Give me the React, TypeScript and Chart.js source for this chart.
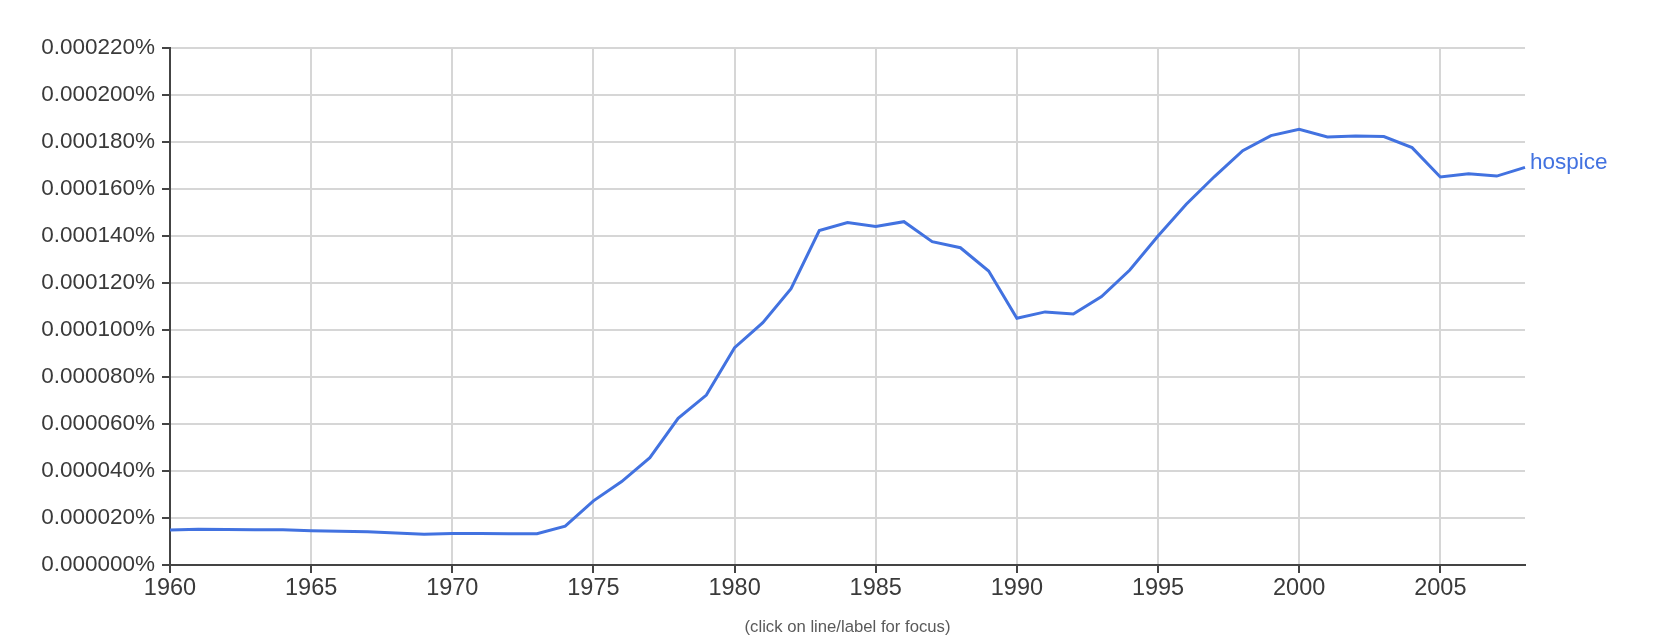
import React, { useEffect, useRef } from "react";
import { Chart, registerables } from "chart.js";

Chart.register(...registerables);

const years: number[] = [
  1960, 1961, 1962, 1963, 1964, 1965, 1966, 1967, 1968, 1969,
  1970, 1971, 1972, 1973, 1974, 1975, 1976, 1977, 1978, 1979,
  1980, 1981, 1982, 1983, 1984, 1985, 1986, 1987, 1988, 1989,
  1990, 1991, 1992, 1993, 1994, 1995, 1996, 1997, 1998, 1999,
  2000, 2001, 2002, 2003, 2004, 2005, 2006, 2007, 2008,
];

// frequency in percent
const hospice: number[] = [
  0.0000149, 0.0000152, 0.0000151, 0.000015, 0.000015, 0.0000146, 0.0000144, 0.0000141, 0.0000136, 0.0000131,
  0.0000134, 0.0000134, 0.0000133, 0.0000133, 0.0000165, 0.0000273, 0.0000355, 0.0000457, 0.0000624, 0.0000723,
  0.0000925, 0.0001031, 0.0001176, 0.0001423, 0.0001457, 0.0001441, 0.0001461, 0.0001376, 0.000135, 0.0001251,
  0.000105, 0.0001077, 0.0001068, 0.0001142, 0.0001255, 0.00014, 0.0001535, 0.0001653, 0.0001763, 0.0001827,
  0.0001854, 0.0001821, 0.0001826, 0.0001823, 0.0001776, 0.0001651, 0.0001665, 0.0001655, 0.0001692,
];

const seriesName = "hospice";
const xTickYears: number[] = [1960, 1965, 1970, 1975, 1980, 1985, 1990, 1995, 2000, 2005];
const yMin = 0;
const yMax = 0.00022;
const yStep = 0.00002;
const caption = "(click on line/label for focus)";

const LINE = "#4272e0";
const AXIS = "#444444";
const TEXT = "#3a3a3a";
const GRID = "#d6d6d6";
const FONT = '"Liberation Sans", Arial, sans-serif';

export default function App() {
  const ref = useRef<HTMLCanvasElement | null>(null);

  useEffect(() => {
    document.body.style.margin = "0";
    const canvas = ref.current;
    if (!canvas) return;

    const labelPlugin = {
      id: "ngramLabels",
      afterDraw(chart: any) {
        const { ctx, chartArea, scales } = chart;
        const xs = scales.x;
        const ys = scales.y;
        const last = hospice.length - 1;
        ctx.save();
        ctx.font = `22.5px ${FONT}`;
        ctx.fillStyle = LINE;
        ctx.textAlign = "left";
        ctx.textBaseline = "middle";
        ctx.fillText(seriesName, xs.getPixelForValue(last) + 5, ys.getPixelForValue(hospice[last]) - 5);
        ctx.font = `16.7px ${FONT}`;
        ctx.fillStyle = "#5a5a5a";
        ctx.textAlign = "center";
        ctx.fillText(caption, (chartArea.left + chartArea.right) / 2, chart.height - 11);
        ctx.restore();
      },
    };

    const chart = new Chart(canvas, {
      type: "line",
      data: {
        labels: years.map(String),
        datasets: [
          {
            label: seriesName,
            data: hospice,
            borderColor: LINE,
            borderWidth: 3,
            pointRadius: 0,
            tension: 0,
            fill: false,
          },
        ],
      },
      options: {
        animation: false,
        responsive: false,
        maintainAspectRatio: false,
        layout: { padding: { left: 0, top: 48, right: 138, bottom: 0 } },
        plugins: {
          legend: { display: false },
          tooltip: { enabled: false },
          title: { display: false },
        },
        scales: {
          x: {
            type: "category",
            offset: false,
            afterFit(scale: any) {
              scale.height = 73;
            },
            border: { color: AXIS, width: 2 },
            grid: {
              color: (c: any) => (xTickYears.includes(years[c.index]) ? GRID : "rgba(0,0,0,0)"),
              lineWidth: 2,
              tickLength: 8,
              tickWidth: 2,
              tickColor: (c: any) => (xTickYears.includes(years[c.index]) ? AXIS : "rgba(0,0,0,0)"),
            },
            ticks: {
              autoSkip: false,
              maxRotation: 0,
              minRotation: 0,
              padding: 1,
              color: TEXT,
              font: { family: FONT, size: 23.5 },
              callback: (_v: any, i: number) => (xTickYears.includes(years[i]) ? String(years[i]) : ""),
            },
          },
          y: {
            type: "linear",
            min: yMin,
            max: yMax,
            afterFit(scale: any) {
              scale.width = 170;
            },
            border: { color: AXIS, width: 2 },
            grid: {
              color: GRID,
              lineWidth: 2,
              tickLength: 8,
              tickWidth: 2,
              tickColor: AXIS,
            },
            ticks: {
              stepSize: yStep,
              padding: 7,
              color: TEXT,
              font: { family: FONT, size: 22.5 },
              callback: (v: any) => Number(v).toFixed(6) + "%",
            },
          },
        },
      },
      plugins: [labelPlugin],
    });

    return () => chart.destroy();
  }, []);

  return (
    <div style={{ width: 1663, height: 638 }}>
      <canvas ref={ref} width={1663} height={638} style={{ display: "block" }} />
    </div>
  );
}
